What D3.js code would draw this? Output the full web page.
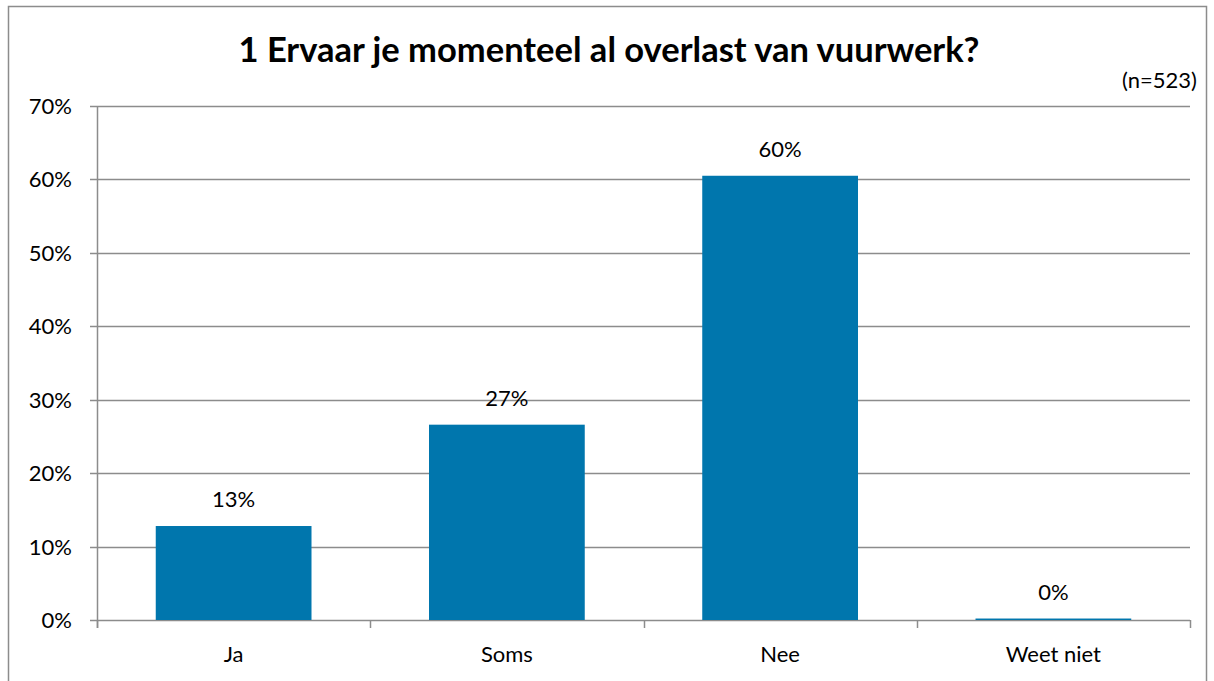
<!DOCTYPE html>
<html lang="nl">
<head>
  <meta charset="UTF-8">
  <title>Overlast van vuurwerk</title>
  <script src="https://cdn.jsdelivr.net/npm/d3@7"></script>
  <style>
    body { margin: 0; background: #fff; }
    svg { display: block; font-family: Lato, "Open Sans", sans-serif; }
  </style>
</head>
<body>
  <div id="chart"></div>
  <script>
    const categories = ["Ja", "Soms", "Nee", "Weet niet"]
    const values = [12.8, 26.6, 60.5, 0.2]
    const valueLabels = ["13%", "27%", "60%", "0%"]
    const yTicks = [0, 10, 20, 30, 40, 50, 60, 70]

    const width = 1214
    const height = 681
    const margin = { top: 106, right: 24, bottom: 61, left: 97 }
    const labelSize = "22px"

    const svg = d3.select("#chart")
      .append("svg")
      .attr("width", width)
      .attr("height", height)

    // outer frame
    svg.append("rect")
      .attr("x", 8.5)
      .attr("y", 6.5)
      .attr("width", 1198)
      .attr("height", 680)
      .attr("fill", "none")
      .attr("stroke", "#8c8c8c")
      .attr("stroke-width", 1.5)

    svg.append("text")
      .attr("x", 609)
      .attr("y", 62)
      .attr("text-anchor", "middle")
      .style("font-size", "34.5px")
      .style("font-weight", "bold")
      .text("1 Ervaar je momenteel al overlast van vuurwerk?")

    svg.append("text")
      .attr("x", 1197)
      .attr("y", 88)
      .attr("text-anchor", "end")
      .style("font-size", labelSize)
      .text("(n=523)")

    const x = d3.scaleBand()
      .domain(categories)
      .range([margin.left, width - margin.right])
      .paddingInner(0.43)
      .paddingOuter(0.215)

    const y = d3.scaleLinear()
      .domain([0, 70])
      .range([height - margin.bottom, margin.top])

    // gridlines
    svg.append("g")
      .selectAll("line")
      .data(yTicks)
      .enter()
      .append("line")
      .attr("x1", margin.left - 7)
      .attr("x2", width - margin.right)
      .attr("y1", d => Math.round(y(d)) + 0.5)
      .attr("y2", d => Math.round(y(d)) + 0.5)
      .attr("stroke", "#8c8c8c")
      .attr("stroke-width", 1.5)

    // y axis line
    svg.append("line")
      .attr("x1", margin.left + 0.5)
      .attr("x2", margin.left + 0.5)
      .attr("y1", y(70))
      .attr("y2", y(0) + 8)
      .attr("stroke", "#8c8c8c")
      .attr("stroke-width", 1.5)

    svg.append("g")
      .selectAll("text")
      .data(yTicks)
      .enter()
      .append("text")
      .attr("x", margin.left - 25)
      .attr("y", d => y(d) + 8)
      .attr("text-anchor", "end")
      .style("font-size", labelSize)
      .text(d => d + "%")

    // x axis category boundary ticks
    const step = (width - margin.right - margin.left) / categories.length
    svg.append("g")
      .selectAll("line")
      .data(d3.range(categories.length + 1))
      .enter()
      .append("line")
      .attr("x1", i => Math.round(margin.left + i * step) + 0.5)
      .attr("x2", i => Math.round(margin.left + i * step) + 0.5)
      .attr("y1", y(0))
      .attr("y2", y(0) + 8)
      .attr("stroke", "#8c8c8c")
      .attr("stroke-width", 1.5)

    svg.append("g")
      .selectAll("rect")
      .data(values)
      .enter()
      .append("rect")
      .attr("x", (d, i) => x(categories[i]))
      .attr("y", d => y(d))
      .attr("width", x.bandwidth())
      .attr("height", d => y(0) - y(d))
      .attr("fill", "#0076ad")

    svg.append("g")
      .selectAll("text")
      .data(values)
      .enter()
      .append("text")
      .attr("x", (d, i) => x(categories[i]) + x.bandwidth() / 2)
      .attr("y", d => y(d) - 19)
      .attr("text-anchor", "middle")
      .style("font-size", labelSize)
      .text((d, i) => valueLabels[i])

    svg.append("g")
      .selectAll("text")
      .data(categories)
      .enter()
      .append("text")
      .attr("x", d => x(d) + x.bandwidth() / 2)
      .attr("y", y(0) + 42)
      .attr("text-anchor", "middle")
      .style("font-size", labelSize)
      .text(d => d)
  </script>
</body>
</html>
